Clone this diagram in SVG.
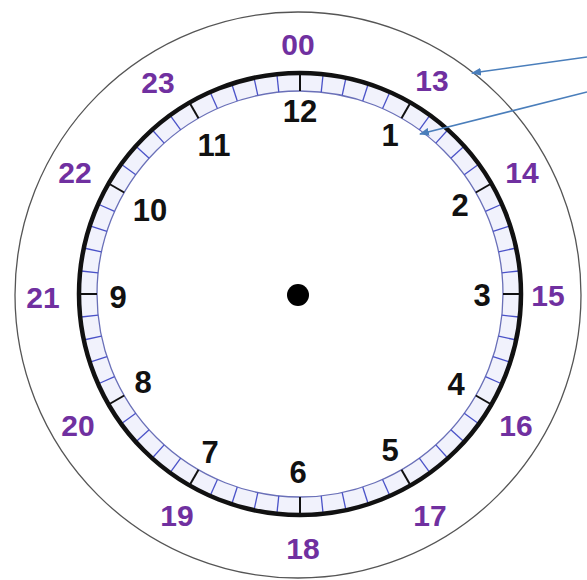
<svg xmlns="http://www.w3.org/2000/svg" width="587" height="580" viewBox="0 0 587 580">
<style>
.num{font-family:"Liberation Sans",Arial,sans-serif;font-weight:bold;font-size:31px;text-anchor:middle;fill:#111}
.h24{font-family:"Liberation Sans",Arial,sans-serif;font-weight:bold;font-size:30px;text-anchor:middle;fill:#7030A0}
.min{stroke:#4a52c8;stroke-width:1.3}
.hr{stroke:#111;stroke-width:2}
.arrow{stroke:#4a7ebb;stroke-width:1.6;fill:none}
</style>
<defs>
<marker id="ah" markerWidth="10" markerHeight="8" refX="9" refY="4" orient="auto" markerUnits="userSpaceOnUse">
<path d="M0,0 L10,4 L0,8 Z" fill="#4a7ebb"/>
</marker>
</defs>
<rect width="587" height="580" fill="#fff"/>
<g id="outer-ring">
<circle cx="298" cy="295" r="283" fill="none" stroke="#555" stroke-width="1.3"/>
</g>
<g id="dial">
<circle cx="300" cy="294" r="211.5" fill="none" stroke="#f1f2fc" stroke-width="17"/>
<circle cx="300" cy="294" r="203" fill="none" stroke="#6a70b8" stroke-width="1.3"/>
<g transform="translate(300,294)">
<line class="hr" x1="0" y1="-203" x2="0" y2="-220" transform="rotate(0)"/>
<line class="min" x1="0" y1="-203" x2="0" y2="-220" transform="rotate(6)"/>
<line class="min" x1="0" y1="-203" x2="0" y2="-220" transform="rotate(12)"/>
<line class="min" x1="0" y1="-203" x2="0" y2="-220" transform="rotate(18)"/>
<line class="min" x1="0" y1="-203" x2="0" y2="-220" transform="rotate(24)"/>
<line class="hr" x1="0" y1="-203" x2="0" y2="-220" transform="rotate(30)"/>
<line class="min" x1="0" y1="-203" x2="0" y2="-220" transform="rotate(36)"/>
<line class="min" x1="0" y1="-203" x2="0" y2="-220" transform="rotate(42)"/>
<line class="min" x1="0" y1="-203" x2="0" y2="-220" transform="rotate(48)"/>
<line class="min" x1="0" y1="-203" x2="0" y2="-220" transform="rotate(54)"/>
<line class="hr" x1="0" y1="-203" x2="0" y2="-220" transform="rotate(60)"/>
<line class="min" x1="0" y1="-203" x2="0" y2="-220" transform="rotate(66)"/>
<line class="min" x1="0" y1="-203" x2="0" y2="-220" transform="rotate(72)"/>
<line class="min" x1="0" y1="-203" x2="0" y2="-220" transform="rotate(78)"/>
<line class="min" x1="0" y1="-203" x2="0" y2="-220" transform="rotate(84)"/>
<line class="hr" x1="0" y1="-203" x2="0" y2="-220" transform="rotate(90)"/>
<line class="min" x1="0" y1="-203" x2="0" y2="-220" transform="rotate(96)"/>
<line class="min" x1="0" y1="-203" x2="0" y2="-220" transform="rotate(102)"/>
<line class="min" x1="0" y1="-203" x2="0" y2="-220" transform="rotate(108)"/>
<line class="min" x1="0" y1="-203" x2="0" y2="-220" transform="rotate(114)"/>
<line class="hr" x1="0" y1="-203" x2="0" y2="-220" transform="rotate(120)"/>
<line class="min" x1="0" y1="-203" x2="0" y2="-220" transform="rotate(126)"/>
<line class="min" x1="0" y1="-203" x2="0" y2="-220" transform="rotate(132)"/>
<line class="min" x1="0" y1="-203" x2="0" y2="-220" transform="rotate(138)"/>
<line class="min" x1="0" y1="-203" x2="0" y2="-220" transform="rotate(144)"/>
<line class="hr" x1="0" y1="-203" x2="0" y2="-220" transform="rotate(150)"/>
<line class="min" x1="0" y1="-203" x2="0" y2="-220" transform="rotate(156)"/>
<line class="min" x1="0" y1="-203" x2="0" y2="-220" transform="rotate(162)"/>
<line class="min" x1="0" y1="-203" x2="0" y2="-220" transform="rotate(168)"/>
<line class="min" x1="0" y1="-203" x2="0" y2="-220" transform="rotate(174)"/>
<line class="hr" x1="0" y1="-203" x2="0" y2="-220" transform="rotate(180)"/>
<line class="min" x1="0" y1="-203" x2="0" y2="-220" transform="rotate(186)"/>
<line class="min" x1="0" y1="-203" x2="0" y2="-220" transform="rotate(192)"/>
<line class="min" x1="0" y1="-203" x2="0" y2="-220" transform="rotate(198)"/>
<line class="min" x1="0" y1="-203" x2="0" y2="-220" transform="rotate(204)"/>
<line class="hr" x1="0" y1="-203" x2="0" y2="-220" transform="rotate(210)"/>
<line class="min" x1="0" y1="-203" x2="0" y2="-220" transform="rotate(216)"/>
<line class="min" x1="0" y1="-203" x2="0" y2="-220" transform="rotate(222)"/>
<line class="min" x1="0" y1="-203" x2="0" y2="-220" transform="rotate(228)"/>
<line class="min" x1="0" y1="-203" x2="0" y2="-220" transform="rotate(234)"/>
<line class="hr" x1="0" y1="-203" x2="0" y2="-220" transform="rotate(240)"/>
<line class="min" x1="0" y1="-203" x2="0" y2="-220" transform="rotate(246)"/>
<line class="min" x1="0" y1="-203" x2="0" y2="-220" transform="rotate(252)"/>
<line class="min" x1="0" y1="-203" x2="0" y2="-220" transform="rotate(258)"/>
<line class="min" x1="0" y1="-203" x2="0" y2="-220" transform="rotate(264)"/>
<line class="hr" x1="0" y1="-203" x2="0" y2="-220" transform="rotate(270)"/>
<line class="min" x1="0" y1="-203" x2="0" y2="-220" transform="rotate(276)"/>
<line class="min" x1="0" y1="-203" x2="0" y2="-220" transform="rotate(282)"/>
<line class="min" x1="0" y1="-203" x2="0" y2="-220" transform="rotate(288)"/>
<line class="min" x1="0" y1="-203" x2="0" y2="-220" transform="rotate(294)"/>
<line class="hr" x1="0" y1="-203" x2="0" y2="-220" transform="rotate(300)"/>
<line class="min" x1="0" y1="-203" x2="0" y2="-220" transform="rotate(306)"/>
<line class="min" x1="0" y1="-203" x2="0" y2="-220" transform="rotate(312)"/>
<line class="min" x1="0" y1="-203" x2="0" y2="-220" transform="rotate(318)"/>
<line class="min" x1="0" y1="-203" x2="0" y2="-220" transform="rotate(324)"/>
<line class="hr" x1="0" y1="-203" x2="0" y2="-220" transform="rotate(330)"/>
<line class="min" x1="0" y1="-203" x2="0" y2="-220" transform="rotate(336)"/>
<line class="min" x1="0" y1="-203" x2="0" y2="-220" transform="rotate(342)"/>
<line class="min" x1="0" y1="-203" x2="0" y2="-220" transform="rotate(348)"/>
<line class="min" x1="0" y1="-203" x2="0" y2="-220" transform="rotate(354)"/>
</g>
<circle cx="300" cy="294" r="221" fill="none" stroke="#111" stroke-width="4.5"/>
<circle cx="298" cy="295" r="11" fill="#000"/>
</g>
<g id="hours12">
<text class="num" x="300" y="122">12</text>
<text class="num" x="390" y="146">1</text>
<text class="num" x="460" y="216">2</text>
<text class="num" x="482" y="306">3</text>
<text class="num" x="456" y="395">4</text>
<text class="num" x="390" y="461">5</text>
<text class="num" x="298" y="483">6</text>
<text class="num" x="210" y="463">7</text>
<text class="num" x="143" y="393">8</text>
<text class="num" x="118" y="308">9</text>
<text class="num" x="150" y="221">10</text>
<text class="num" x="214" y="156">11</text>
</g>
<g id="hours24">
<text class="h24" x="298" y="55">00</text>
<text class="h24" x="432" y="91">13</text>
<text class="h24" x="522" y="183">14</text>
<text class="h24" x="548" y="306">15</text>
<text class="h24" x="516" y="436">16</text>
<text class="h24" x="430" y="526">17</text>
<text class="h24" x="303" y="559">18</text>
<text class="h24" x="177" y="526">19</text>
<text class="h24" x="78" y="436">20</text>
<text class="h24" x="43" y="308">21</text>
<text class="h24" x="75" y="183">22</text>
<text class="h24" x="158" y="93">23</text>
</g>
<g id="connectors">
<line class="arrow" x1="587" y1="57" x2="472" y2="73" marker-end="url(#ah)"/>
<line class="arrow" x1="587" y1="92" x2="420" y2="134" marker-end="url(#ah)"/>
</g>
</svg>
